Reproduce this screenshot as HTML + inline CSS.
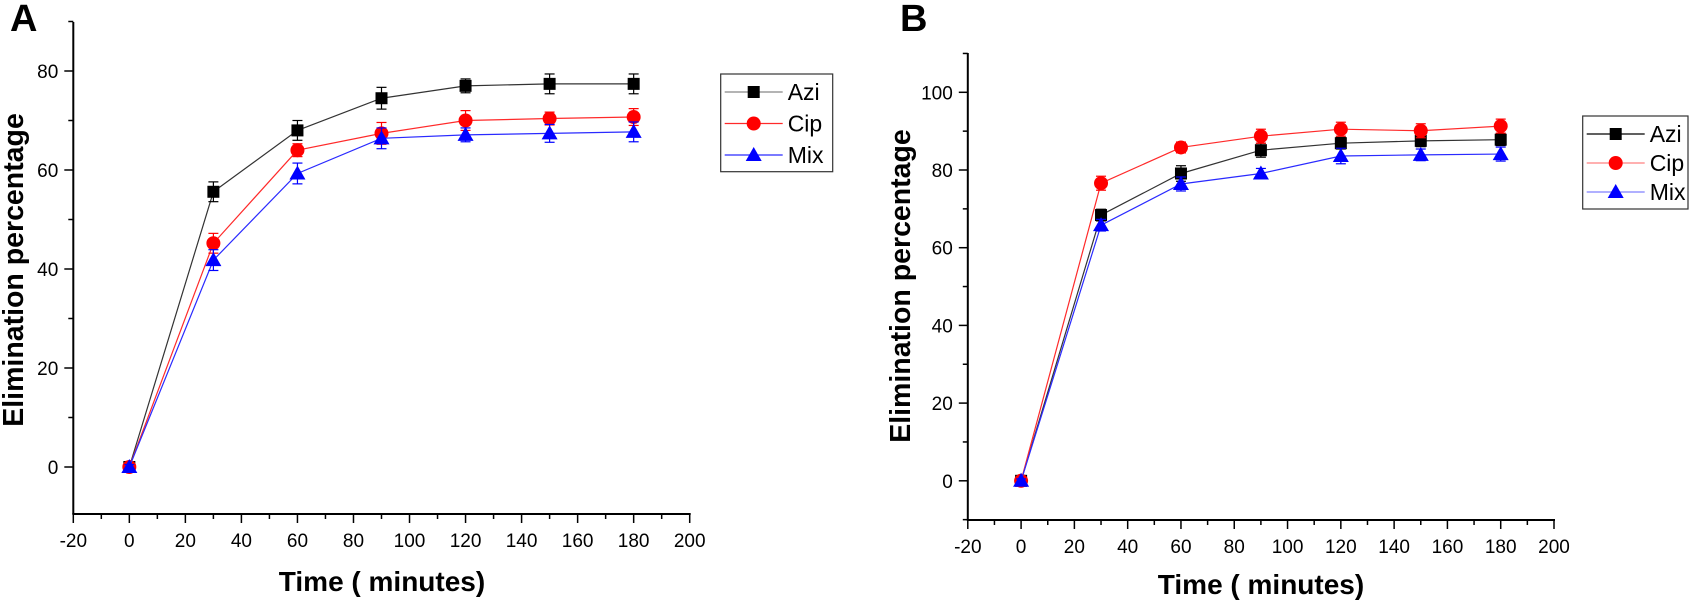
<!DOCTYPE html>
<html><head><meta charset="utf-8"><style>
html,body{margin:0;padding:0;background:#fff;width:1689px;height:600px;overflow:hidden}
svg{display:block;font-family:"Liberation Sans",Arial,sans-serif}
</style></head><body>
<svg id="fig" width="1689" height="600" viewBox="0 0 1689 600"></svg>
<script>
const times = [0, 30, 60, 90, 120, 150, 180];
const xTicks = [-20, 0, 20, 40, 60, 80, 100, 120, 140, 160, 180, 200];
const seriesNames = ["Azi", "Cip", "Mix"];
const aAzi = [0, 55.6, 68.0, 74.5, 77.0, 77.4, 77.4];
const aCip = [0, 45.2, 64.0, 67.4, 70.0, 70.4, 70.7];
const aMix = [0, 41.8, 59.3, 66.4, 67.1, 67.4, 67.7];
const aAziErr = [0.5, 2.0, 2.0, 2.2, 1.4, 2.0, 2.0];
const aCipErr = [0.5, 2.0, 1.3, 2.2, 2.0, 1.3, 1.7];
const aMixErr = [0.5, 2.1, 2.1, 2.1, 1.4, 1.8, 2.0];
const aYTicks = [0, 20, 40, 60, 80];
const bAzi = [0, 68.4, 79.1, 85.1, 86.9, 87.5, 87.8];
const bCip = [0, 76.6, 85.8, 88.7, 90.5, 90.1, 91.3];
const bMix = [0, 65.8, 76.4, 79.1, 83.6, 83.9, 84.1];
const bAziErr = [0.5, 1.5, 2.0, 1.8, 1.5, 1.5, 1.5];
const bCipErr = [0.5, 1.8, 1.4, 1.8, 1.8, 1.8, 1.8];
const bMixErr = [0.5, 1.5, 1.8, 1.3, 2.0, 1.5, 1.8];
const bYTicks = [0, 20, 40, 60, 80, 100];

const NS = "http://www.w3.org/2000/svg";
const svg = document.getElementById("fig");
function el(tag, attrs, parent, text) {
  const e = document.createElementNS(NS, tag);
  for (const k in attrs) e.setAttribute(k, attrs[k]);
  if (text !== undefined) e.textContent = text;
  (parent || svg).appendChild(e);
  return e;
}
const colors = ["#000", "#ff0000", "#0000ff"];
const lineColors = ["#333", "#ff2a2a", "#2a2aff"];

function marker(g, type, cx, cy, c) {
  let m;
  if (type === 0) m = el("rect", {x: cx - 6, y: cy - 6, width: 12, height: 12, fill: c}, g);
  else if (type === 1) m = el("circle", {cx: cx, cy: cy, r: 7, fill: c}, g);
  else m = el("polygon", {points: `${cx},${cy - 8} ${cx + 8},${cy + 6} ${cx - 8},${cy + 6}`, fill: c}, g);
  return m;
}

function panel(cfg) {
  const g = el("g", {});
  
  
  const X = v => cfg.x0 + (v - cfg.xmin) * (cfg.x1 - cfg.x0) / (cfg.xmax - cfg.xmin);
  const Y = v => cfg.yZero - v * cfg.ypu;
  const ax = el("line", {x1: cfg.x0, y1: cfg.yTop, x2: cfg.x0, y2: cfg.yBot, stroke: "#000", "stroke-width": 2}, g);
  
  
  const bx = el("line", {x1: cfg.x0 - 1, y1: cfg.yBot, x2: cfg.x1 + 1, y2: cfg.yBot, stroke: "#000", "stroke-width": 2}, g);
  
  
  for (let i = 0; i < xTicks.length; i++) {
    const v = xTicks[i];
    el("line", {x1: X(v), y1: cfg.yBot, x2: X(v), y2: cfg.yBot + 9, stroke: "#000", "stroke-width": 1.5}, g);
    if (i < xTicks.length - 1) {
      const m = v + 10;
      el("line", {x1: X(m), y1: cfg.yBot, x2: X(m), y2: cfg.yBot + 5, stroke: "#000", "stroke-width": 1.5}, g);
    }
    const t = el("text", {x: X(v), y: cfg.yBot + 33, "text-anchor": "middle", "font-size": 19}, g, String(v));
    
    
  }
  for (let i = 0; i < cfg.yTicks.length; i++) {
    const v = cfg.yTicks[i];
    el("line", {x1: cfg.x0 - 9, y1: Y(v), x2: cfg.x0, y2: Y(v), stroke: "#000", "stroke-width": 1.5}, g);
    const t = el("text", {x: cfg.x0 - 15, y: Y(v) + 7, "text-anchor": "end", "font-size": 19}, g, String(v));
    
    
  }
  for (let v = cfg.yTicks[0] - 10; v <= cfg.yTicks[cfg.yTicks.length - 1] + 10; v += 20) {
    const yy = Y(v);
    if (yy < cfg.yTop - 1 || yy > cfg.yBot) continue;
    el("line", {x1: cfg.x0 - 5, y1: yy, x2: cfg.x0, y2: yy, stroke: "#000", "stroke-width": 1.5}, g);
  }
  cfg.series.forEach((s, si) => {
    const sg = el("g", {}, g);
    
    
    const pts = times.map((t, i) => X(t) + "," + Y(s[i])).join(" ");
    el("polyline", {points: pts, fill: "none", stroke: lineColors[si], "stroke-width": 1.2}, sg);
    times.forEach((t, i) => {
      const e = cfg.errs[si][i];
      const cx = X(t);
      el("line", {x1: cx, y1: Y(s[i] + e), x2: cx, y2: Y(s[i] - e), stroke: colors[si], "stroke-width": 1.2}, sg);
      el("line", {x1: cx - 5, y1: Y(s[i] + e), x2: cx + 5, y2: Y(s[i] + e), stroke: colors[si], "stroke-width": 1.2}, sg);
      el("line", {x1: cx - 5, y1: Y(s[i] - e), x2: cx + 5, y2: Y(s[i] - e), stroke: colors[si], "stroke-width": 1.2}, sg);
      const m = marker(sg, si, cx, Y(s[i]), colors[si]);
      
      
    });
  });
  const L = cfg.legend;
  const lg = el("g", {}, g);
  
  
  el("rect", {x: L.x, y: L.y, width: L.w, height: L.h, fill: "#fff", stroke: "#333", "stroke-width": 1.2}, lg);
  seriesNames.forEach((n, i) => {
    const ry = L.y + L.r0 + i * L.dr;
    const eg = el("g", {}, lg);
    
    
    el("line", {x1: L.x + 4, y1: ry, x2: L.x + 62, y2: ry, stroke: L.lc[i], "stroke-width": 1.2}, eg);
    marker(eg, i, L.x + 33, ry, colors[i]);
    el("text", {x: L.x + 67, y: ry + 8, "font-size": 23}, eg, n);
  });
  const yt = el("text", {x: cfg.ytx, y: cfg.yty, "text-anchor": "middle", "font-size": 28.5, "font-weight": "bold", transform: `rotate(-90 ${cfg.ytx} ${cfg.yty})`}, g, "Elimination percentage");
  
  
  const xt = el("text", {x: cfg.xtx, y: cfg.xty, "text-anchor": "middle", "font-size": 28, "font-weight": "bold"}, g, "Time ( minutes)");
  
  
  const pl = el("text", {x: cfg.plx, y: cfg.ply, "font-size": 38, "font-weight": "bold"}, g, cfg.label);
  
  
}

panel({name: "panel-a", label: "A", plx: 10, ply: 31,
  x0: 73.3, x1: 689.7, xmin: -20, xmax: 200,
  yZero: 467, ypu: 4.95, yTop: 22, yBot: 514, yTicks: aYTicks,
  series: [aAzi, aCip, aMix], errs: [aAziErr, aCipErr, aMixErr],
  legend: {x: 720.7, y: 74, w: 112, h: 97.7, r0: 18, dr: 31.5, lc: ["#888", "#ff2a2a", "#2a2aff"]},
  ytx: 23, yty: 270, xtx: 382, xty: 591});
panel({name: "panel-b", label: "B", plx: 900, ply: 31,
  x0: 967.8, x1: 1554, xmin: -20, xmax: 200,
  yZero: 480.8, ypu: 3.885, yTop: 53, yBot: 520, yTicks: bYTicks,
  series: [bAzi, bCip, bMix], errs: [bAziErr, bCipErr, bMixErr],
  legend: {x: 1582.7, y: 116, w: 105.3, h: 93, r0: 18, dr: 29, lc: ["#000", "#ff8080", "#8080ff"]},
  ytx: 910, yty: 286, xtx: 1261, xty: 594});
</script>
</body></html>
